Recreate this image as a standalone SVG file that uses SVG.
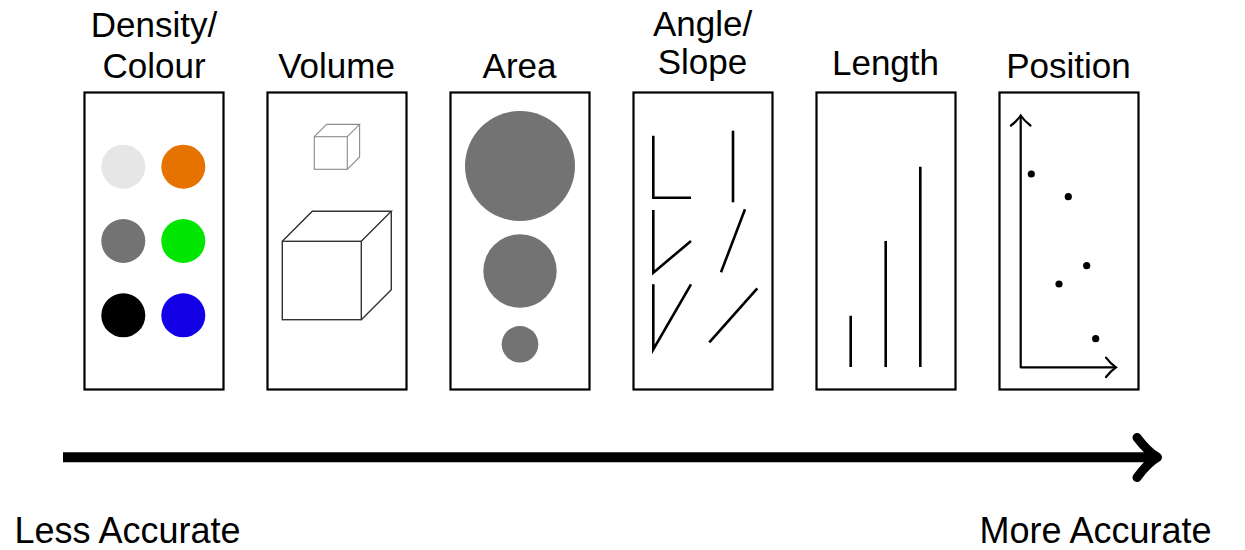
<svg xmlns="http://www.w3.org/2000/svg" width="1245" height="550" viewBox="0 0 1245 550">
<style>
text{font-family:"Liberation Sans",Arial,sans-serif;fill:#000;text-anchor:middle}
.h{font-size:35px}
.f{font-size:36px}
.box{fill:#fff;stroke:#000;stroke-width:2.2}
.ln{stroke:#000;stroke-width:2.6;fill:none;stroke-linecap:butt}
.ax{stroke:#000;stroke-width:2.2;fill:none;stroke-linecap:round}
.g{fill:#737373}
.dot{fill:#000}
</style>
<rect width="1245" height="550" fill="#fff"/>
<g id="density">
<text class="h" x="154" y="37">Density/</text>
<text class="h" x="154" y="78">Colour</text>
<rect class="box" x="84.5" y="92.5" width="139" height="297"/>
<circle cx="123.3" cy="166.7" r="22" fill="#e6e6e6"/>
<circle cx="183.3" cy="166.7" r="22" fill="#e67300"/>
<circle cx="123.3" cy="241" r="22" fill="#737373"/>
<circle cx="183.3" cy="241" r="22" fill="#00e600"/>
<circle cx="123.3" cy="315.3" r="22" fill="#000"/>
<circle cx="183.3" cy="315.3" r="22" fill="#1400e6"/>
</g>
<g id="volume">
<text class="h" x="336.5" y="78">Volume</text>
<rect class="box" x="267.5" y="92.5" width="139" height="297"/>
<g fill="none" stroke="#8a8a8a" stroke-width="1.1">
<rect x="314.3" y="136.7" width="33" height="32.6"/>
<path d="M314.3,136.7 L326.6,124.4 L359.6,124.4 L347.3,136.7 M359.6,124.4 L359.6,157 L347.3,169.3"/>
</g>
<g fill="none" stroke="#333" stroke-width="1.4">
<rect x="282.3" y="241.3" width="79" height="78.4"/>
<path d="M282.3,241.3 L312.3,211.3 L391.3,211.3 L361.3,241.3 M391.3,211.3 L391.3,289.7 L361.3,319.7"/>
</g>
</g>
<g id="area">
<text class="h" x="519.5" y="78">Area</text>
<rect class="box" x="450.5" y="92.5" width="139" height="297"/>
<circle class="g" cx="520" cy="166" r="55"/>
<circle class="g" cx="520" cy="271" r="36.7"/>
<circle class="g" cx="520" cy="344.3" r="18.3"/>
</g>
<g id="angle">
<text class="h" x="702.5" y="36">Angle/</text>
<text class="h" x="702.5" y="74">Slope</text>
<rect class="box" x="633.5" y="92.5" width="139" height="297"/>
<path class="ln" d="M653.3,135.7 L653.3,197.7 L691,197.7"/>
<path class="ln" d="M733,130.7 L733,202.3"/>
<path class="ln" d="M653.3,210 L653.3,272.7 L691,241"/>
<path class="ln" d="M745,209.3 L721,272.3"/>
<path class="ln" d="M653.3,284.3 L653.3,349.3 L691,284.3"/>
<path class="ln" d="M757.3,288.3 L709.3,342.3"/>
</g>
<g id="length">
<text class="h" x="885.5" y="75">Length</text>
<rect class="box" x="816.5" y="92.5" width="139" height="297"/>
<path class="ln" d="M850.7,315.7 V367 M885.7,241 V367 M920.3,166.7 V367"/>
</g>
<g id="position">
<text class="h" x="1068.5" y="78">Position</text>
<rect class="box" x="999.5" y="92.5" width="139" height="297"/>
<path class="ax" d="M1020.7,367.3 V116 M1020.7,367.3 H1115"/>
<path class="ax" d="M1011,125.5 Q1017,121 1020.7,115.5 Q1024.4,121 1030.4,125.5"/>
<path class="ax" d="M1106,357.6 Q1110.5,363.6 1116,367.3 Q1110.5,371 1106,377"/>
<circle class="dot" cx="1031.3" cy="174" r="3.6"/>
<circle class="dot" cx="1068.3" cy="196.7" r="3.6"/>
<circle class="dot" cx="1086.7" cy="265.7" r="3.6"/>
<circle class="dot" cx="1059" cy="284" r="3.6"/>
<circle class="dot" cx="1095.7" cy="338.7" r="3.6"/>
</g>
<g id="connectors">
<path d="M63,457.3 H1154" stroke="#000" stroke-width="10" fill="none"/>
<path d="M1137,437.5 Q1148,452 1157.5,457.3 Q1148,462.6 1137,477.5" stroke="#000" stroke-width="9" fill="none" stroke-linecap="round" stroke-linejoin="round"/>
</g>
<g id="labels">
<text class="f" x="127.5" y="543">Less Accurate</text>
<text class="f" x="1095.5" y="543">More Accurate</text>
</g>
</svg>
